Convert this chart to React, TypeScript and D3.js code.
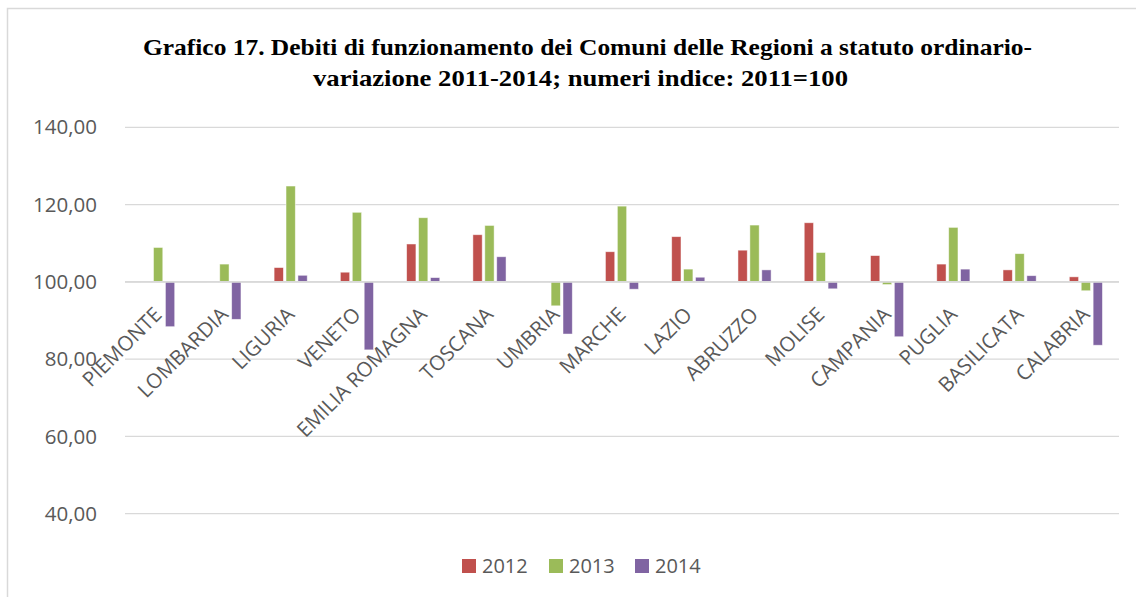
import React, { useEffect, useRef } from 'react';
import * as d3 from 'd3';

const regions = [
  'PIEMONTE', 'LOMBARDIA', 'LIGURIA', 'VENETO', 'EMILIA ROMAGNA', 'TOSCANA', 'UMBRIA',
  'MARCHE', 'LAZIO', 'ABRUZZO', 'MOLISE', 'CAMPANIA', 'PUGLIA', 'BASILICATA', 'CALABRIA',
];
const years = ['2012', '2013', '2014'];
const values2012 = [100.2, 100.2, 103.7, 102.5, 109.8, 112.2, 100.1, 107.8, 111.7, 108.2, 115.3, 106.8, 104.6, 103.1, 101.3];
const values2013 = [108.9, 104.6, 124.8, 118.0, 116.6, 114.6, 93.8, 119.6, 103.3, 114.7, 107.6, 99.3, 114.1, 107.3, 97.7];
const values2014 = [88.4, 90.3, 101.7, 82.4, 101.1, 106.5, 86.5, 98.1, 101.2, 103.1, 98.2, 85.8, 103.3, 101.6, 83.6];
const yTicks = [40, 60, 80, 100, 120, 140];
const colors = ['#C0504D', '#9BBB59', '#8064A2'];

const W = 1136;
const H = 597;

export default function App() {
  const ref = useRef<SVGSVGElement>(null);

  useEffect(() => {
    const svg = d3.select(ref.current);
    svg.selectAll('*').remove();

    // frame of the picture
    svg.append('rect')
      .attr('x', 7.5).attr('y', 8.5)
      .attr('width', 1140).attr('height', 600)
      .attr('fill', '#fff')
      .attr('stroke', '#d9d9d9')
      .attr('stroke-width', 1.5);

    // title
    const title = svg.append('g')
      .attr('font-family', '"Liberation Serif", serif')
      .attr('font-weight', 'bold')
      .attr('font-size', 23)
      .attr('fill', '#000');
    title.append('text')
      .attr('x', 143).attr('y', 55)
      .attr('textLength', 889).attr('lengthAdjust', 'spacingAndGlyphs')
      .text('Grafico 17. Debiti di funzionamento dei Comuni delle Regioni a statuto ordinario-');
    title.append('text')
      .attr('x', 313).attr('y', 86)
      .attr('textLength', 535).attr('lengthAdjust', 'spacingAndGlyphs')
      .text('variazione 2011-2014; numeri indice: 2011=100');

    const left = 125, right = 1119;
    const x = d3.scaleBand().domain(regions).range([left, right]).paddingInner(0).paddingOuter(0);
    const y = d3.scaleLinear().domain([40, 140]).range([513.7, 127.3]);

    const inner = d3.scaleBand().domain(years)
      .range([x.bandwidth() * 0.25, x.bandwidth() * 0.75])
      .paddingInner(0.22);

    // grid
    svg.append('g').selectAll('line').data(yTicks).enter().append('line')
      .attr('x1', left).attr('x2', right)
      .attr('y1', d => y(d)).attr('y2', d => y(d))
      .attr('stroke', '#d9d9d9').attr('stroke-width', 1.3);

    // y tick labels
    svg.append('g').selectAll('text').data(yTicks).enter().append('text')
      .attr('x', 97).attr('y', d => y(d))
      .attr('dy', '0.35em')
      .attr('text-anchor', 'end')
      .attr('font-family', '"Open Sans", sans-serif')
      .attr('font-size', 20.5)
      .attr('fill', '#595959')
      .text(d => d3.format('.2f')(d).replace('.', ','));

    // bars
    const series = [values2012, values2013, values2014];
    series.forEach((vals, si) => {
      svg.append('g').selectAll('rect').data(vals).enter().append('rect')
        .attr('x', (d, i) => (x(regions[i]) as number) + (inner(years[si]) as number))
        .attr('width', inner.bandwidth())
        .attr('y', d => Math.min(y(d), y(100)))
        .attr('height', d => Math.abs(y(d) - y(100)))
        .attr('fill', colors[si])
        .attr('stroke', '#fff')
        .attr('stroke-opacity', 0.6)
        .attr('stroke-width', 0.8);
    });

    // base axis at 100
    svg.append('line')
      .attr('x1', left).attr('x2', right)
      .attr('y1', y(100)).attr('y2', y(100))
      .attr('stroke', '#d9d9d9').attr('stroke-width', 1.6);

    // category labels
    svg.append('g').selectAll('text').data(regions).enter().append('text')
      .attr('transform', d => `translate(${(x(d) as number) + x.bandwidth() / 2 + 5},${y(100) + 34}) rotate(-45)`)
      .attr('text-anchor', 'end')
      .attr('font-family', '"Open Sans", sans-serif')
      .attr('font-size', 20.5)
      .attr('fill', '#595959')
      .text(d => d);

    // legend
    const legendX = [462, 549, 635];
    const lg = svg.append('g');
    years.forEach((yr, i) => {
      lg.append('rect')
        .attr('x', legendX[i]).attr('y', 559)
        .attr('width', 14).attr('height', 14)
        .attr('fill', colors[i]);
      lg.append('text')
        .attr('x', legendX[i] + 20).attr('y', 566)
        .attr('dy', '0.35em')
        .attr('font-family', '"Open Sans", sans-serif')
        .attr('font-size', 20)
        .attr('fill', '#595959')
        .text(yr);
    });
  }, []);

  return (
    <svg ref={ref} width={W} height={H}
      style={{ position: 'absolute', left: 0, top: 0, background: '#fff' }} />
  );
}
